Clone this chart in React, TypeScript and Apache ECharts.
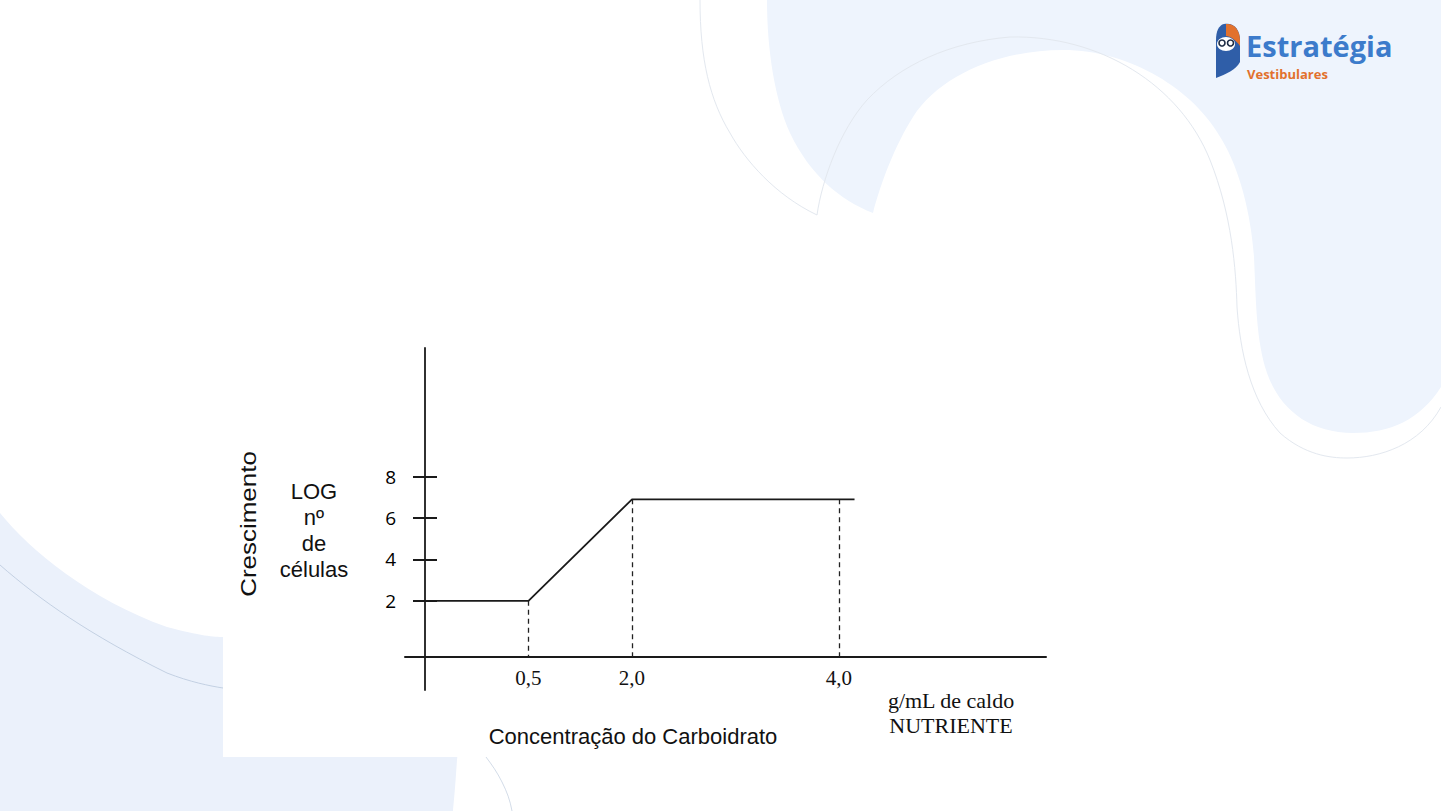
import React, { useEffect, useRef } from "react";
import * as echarts from "echarts";

// ---- data (positions are on the drawn, ordinal-like concentration axis) ----
const concentrationLabels = ["0,5", "2,0", "4,0"];
const concentrationTickPositions = [1, 2, 4];
const curvePositions = [0, 1, 2, 4.15];
const curveLogCells = [2, 2, 6.9, 6.9];
const dropPositions = [1, 2, 4];
const dropLogCells = [2, 6.9, 6.9];
const yTickValues = [2, 4, 6, 8];

// ---- layout ----
const GRID = { left: 405, top: 348, width: 641, height: 342 };
const X_MIN = -0.1932;
const X_MAX = 6;
const Y_MIN = -2.3;
const Y_MAX = 14.2;
const X_AXIS_LEVEL = -0.7;

const BG_TOP =
  "M767,0 L1441,0 L1441,387 C1420,420 1390,433 1353,433 C1310,433 1280,410 1267,373 C1256,340 1256,300 1254,257 C1251,215 1240,170 1222,140 C1195,90 1130,50 1063,50 C1000,50 940,75 913,117 C895,145 880,185 873,213 C840,200 810,175 790,133 C775,100 767,50 767,0 Z";
const BG_TOP_LINE_A = "M700,0 C700,60 710,100 730,133 C745,160 775,195 817,215";
const BG_TOP_LINE_B =
  "M817,215 C822,180 840,130 867,100 C900,65 950,42 1010,37 C1100,35 1180,85 1210,160 C1232,215 1236,270 1237,307 C1240,350 1250,400 1280,433 C1305,455 1330,458 1347,458 C1380,458 1420,445 1441,407";
const BG_LOW =
  "M0,513 C30,550 90,600 167,627 C200,636 215,637 223,637 L400,650 C450,680 460,740 457,760 C455,790 454,800 453,811 L0,811 Z";
const BG_LOW_LINE = "M0,565 C40,600 90,635 167,673 C190,682 210,686 223,688";
const BG_LOW_LINE2 = "M486,757 C492,765 497,772 502,782 C507,792 510,800 512,811";
const OWL_BODY =
  "M1224,24 C1234,22 1240,30 1240,40 L1240,62 C1236,70 1226,74 1216,78 L1216,40 C1216,31 1219,25 1224,24 Z";
const OWL_HEAD =
  "M1226,24 C1234,23 1240,30 1240,40 L1240,46 C1236,40 1230,36 1226,36 Z";

echarts.graphic.registerShape("bgTop", echarts.graphic.extendPath(BG_TOP, {}));
echarts.graphic.registerShape("bgTopLineA", echarts.graphic.extendPath(BG_TOP_LINE_A, {}));
echarts.graphic.registerShape("bgTopLineB", echarts.graphic.extendPath(BG_TOP_LINE_B, {}));
echarts.graphic.registerShape("bgLow", echarts.graphic.extendPath(BG_LOW, {}));
echarts.graphic.registerShape("bgLowLine", echarts.graphic.extendPath(BG_LOW_LINE, {}));
echarts.graphic.registerShape("bgLowLine2", echarts.graphic.extendPath(BG_LOW_LINE2, {}));
echarts.graphic.registerShape("owlBody", echarts.graphic.extendPath(OWL_BODY, {}));
echarts.graphic.registerShape("owlHead", echarts.graphic.extendPath(OWL_HEAD, {}));

export default function App() {
  const ref = useRef<HTMLDivElement>(null);

  useEffect(() => {
    document.body.style.margin = "0";
    if (!ref.current) return;
    const chart = echarts.init(ref.current, undefined, { renderer: "svg" });

    // the x axis line sits at y = X_AXIS_LEVEL; the inner tick set sits at x = 0
    const xOffset = -((X_AXIS_LEVEL - Y_MIN) / (Y_MAX - Y_MIN)) * GRID.height;
    const innerTickOffset = -((X_MAX - 0) / (X_MAX - X_MIN)) * GRID.width;
    const labelFor = (v: number) => {
      const i = concentrationTickPositions.indexOf(v);
      return i >= 0 ? concentrationLabels[i] : "";
    };

    const sans = "'Liberation Sans', Arial, sans-serif";
    const serif = "'Liberation Serif', 'Times New Roman', serif";
    const axisColor = "#1a1a1a";

    const option: any = {
      animation: false,
      backgroundColor: "#ffffff",
      grid: {
        left: GRID.left,
        top: GRID.top,
        width: GRID.width,
        height: GRID.height,
        containLabel: false,
        outerBoundsMode: "none",
      },
      xAxis: [
        {
          type: "value",
          min: X_MIN,
          max: X_MAX,
          position: "bottom",
          offset: xOffset,
          axisLine: { show: true, onZero: false, lineStyle: { color: axisColor, width: 2 } },
          axisTick: { show: false },
          splitLine: { show: false },
          axisLabel: {
            show: true,
            customValues: concentrationTickPositions,
            formatter: (v: number) => labelFor(v),
            fontFamily: serif,
            fontSize: 21,
            color: "#111",
            margin: 11,
          },
        },
      ],
      yAxis: [
        {
          type: "value",
          min: Y_MIN,
          max: Y_MAX,
          position: "left",
          axisLine: { show: true, onZero: true, lineStyle: { color: axisColor, width: 1.8 } },
          axisTick: {
            show: true,
            customValues: yTickValues,
            length: 12,
            lineStyle: { color: axisColor, width: 2 },
          },
          axisLabel: {
            show: true,
            customValues: yTickValues,
            margin: 9,
            fontFamily: "'Open Sans', sans-serif",
            fontSize: 19,
            color: "#000",
          },
          splitLine: { show: false },
        },
        {
          type: "value",
          min: Y_MIN,
          max: Y_MAX,
          position: "right",
          offset: innerTickOffset,
          axisLine: { show: false, onZero: false },
          axisTick: {
            show: true,
            customValues: yTickValues,
            length: 12,
            lineStyle: { color: axisColor, width: 2 },
          },
          axisLabel: { show: false },
          splitLine: { show: false },
        },
      ],
      series: [
        {
          type: "line",
          xAxisIndex: 0,
          yAxisIndex: 0,
          data: curvePositions.map((x, i) => [x, curveLogCells[i]]),
          symbol: "none",
          lineStyle: { color: "#1a1a1a", width: 1.8 },
          z: 5,
          markLine: {
            silent: true,
            symbol: ["none", "none"],
            label: { show: false },
            lineStyle: { type: [5, 4], color: "#222", width: 1.3 },
            data: dropPositions.map((x, i) => [
              { coord: [x, dropLogCells[i]] },
              { coord: [x, X_AXIS_LEVEL] },
            ]),
          },
        },
      ],
      graphic: {
        elements: [
          { type: "bgTop", x: 0, y: 0, z: -20, silent: true, style: { fill: "#eef4fd", stroke: "none" } },
          { type: "bgTopLineA", x: 0, y: 0, z: -19, silent: true, style: { fill: "none", stroke: "#e3e8ef", lineWidth: 1 } },
          { type: "bgTopLineB", x: 0, y: 0, z: -19, silent: true, style: { fill: "none", stroke: "#e3e8ef", lineWidth: 1 } },
          { type: "bgLow", x: 0, y: 0, z: -20, silent: true, style: { fill: "#ebf1fb", stroke: "none" } },
          { type: "bgLowLine", x: 0, y: 0, z: -19, silent: true, style: { fill: "none", stroke: "#b9c8dc", lineWidth: 0.8 } },
          { type: "bgLowLine2", x: 0, y: 0, z: -19, silent: true, style: { fill: "none", stroke: "#c8d3e2", lineWidth: 0.8 } },
          {
            type: "rect",
            z: -10,
            silent: true,
            shape: { x: 223, y: 300, width: 850, height: 457 },
            style: { fill: "#ffffff" },
          },
          // logo
          { type: "owlBody", x: 0, y: 0, z: 10, style: { fill: "#2f5ea8" } },
          { type: "owlHead", x: 0, y: 0, z: 11, style: { fill: "#e2712d" } },
          { type: "ellipse", z: 12, shape: { cx: 1226, cy: 44, rx: 9, ry: 7 }, style: { fill: "#ffffff" } },
          { type: "circle", z: 13, shape: { cx: 1222, cy: 43, r: 3 }, style: { fill: "#ffffff", stroke: "#1d2b44", lineWidth: 1.6 } },
          { type: "circle", z: 13, shape: { cx: 1230.5, cy: 43, r: 3 }, style: { fill: "#ffffff", stroke: "#1d2b44", lineWidth: 1.6 } },
          {
            type: "text",
            z: 10,
            x: 1246,
            y: 45,
            style: {
              text: "Estratégia",
              font: "bold 29px 'Open Sans', sans-serif",
              lineHeight: 24,
              fill: "#3c7bcb",
              align: "left",
              verticalAlign: "middle",
            },
          },
          {
            type: "text",
            z: 10,
            x: 1247,
            y: 74,
            style: {
              text: "Vestibulares",
              font: "bold 13px 'Open Sans', sans-serif",
              lineHeight: 12,
              fill: "#e2712d",
              align: "left",
              verticalAlign: "middle",
            },
          },
          // chart texts
          {
            type: "text",
            z: 10,
            x: 248,
            y: 524,
            rotation: Math.PI / 2,
            scaleX: 1.18,
            style: {
              text: "Crescimento",
              font: `22px ${sans}`,
              fill: "#111",
              align: "center",
              verticalAlign: "middle",
            },
          },
          {
            type: "text",
            z: 10,
            x: 314,
            y: 530,
            style: {
              text: "LOG\nnº\nde\ncélulas",
              font: `22px ${sans}`,
              lineHeight: 26,
              fill: "#111",
              align: "center",
              verticalAlign: "middle",
            },
          },
          {
            type: "text",
            z: 10,
            x: 633,
            y: 736,
            style: {
              text: "Concentração do Carboidrato",
              font: `22px ${sans}`,
              fill: "#111",
              align: "center",
              verticalAlign: "middle",
            },
          },
          {
            type: "text",
            z: 10,
            x: 951,
            y: 713,
            style: {
              text: "g/mL de caldo\nNUTRIENTE",
              font: `22px ${serif}`,
              lineHeight: 25,
              fill: "#111",
              align: "center",
              verticalAlign: "middle",
            },
          },
        ],
      },
    };

    chart.setOption(option);
    return () => chart.dispose();
  }, []);

  return (
    <div
      ref={ref}
      style={{ position: "fixed", left: 0, top: 0, width: 1441, height: 811 }}
    />
  );
}
